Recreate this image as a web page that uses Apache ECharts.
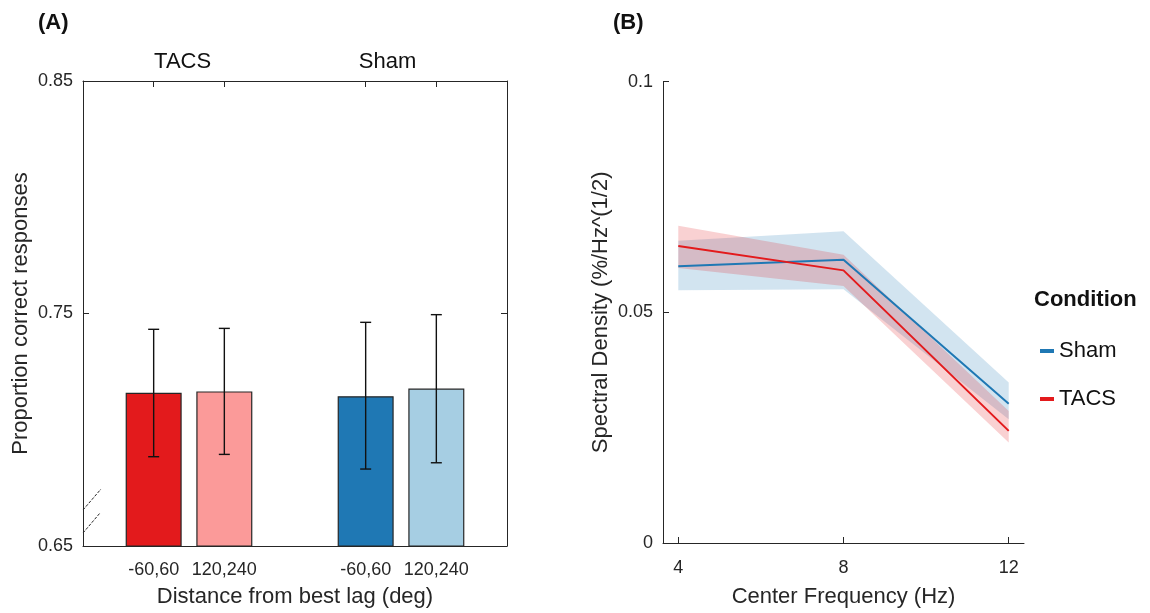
<!DOCTYPE html>
<html><head><meta charset="utf-8">
<script src="https://cdn.jsdelivr.net/npm/echarts@6/dist/echarts.min.js"></script>
<style>html,body{margin:0;padding:0;background:#fff}#c{width:1150px;height:613px}</style>
</head><body><div id="c"></div>
<script>
// ---------- Panel A data ----------
const lagLabels = ['-60,60', '120,240', '-60,60', '120,240'];
const barPos = [1, 2, 4, 5];
const groupLabels = ['TACS', 'Sham'];
const accMean = [0.7159, 0.7165, 0.7144, 0.7177];
const accLow  = [0.6884, 0.6894, 0.6831, 0.6858];
const accHigh = [0.7432, 0.7436, 0.7462, 0.7495];
const yTicksA = [0.65, 0.75, 0.85];
// ---------- Panel B data ----------
const freq = [4, 8, 12];
const shamMean = [0.0600, 0.0614, 0.0302];
const shamLow  = [0.0548, 0.0550, 0.0268];
const shamHigh = [0.0655, 0.0676, 0.0348];
const tacsMean = [0.0644, 0.0591, 0.0243];
const tacsLow  = [0.0596, 0.0557, 0.0218];
const tacsHigh = [0.0688, 0.0625, 0.0286];
const yTicksB = [0, 0.05, 0.1];

const barColors = ['#e31a1c', '#fb9a99', '#1f78b4', '#a6cee3'];
const groupLabelX = [1.41, 4.31];
const FONT = '"Liberation Sans", Arial, sans-serif';
const AX = '#262626';

const chart = echarts.init(document.getElementById('c'), null, {renderer: 'canvas'});

function axisBase(extra) {
  return Object.assign({
    type: 'value',
    splitLine: {show: false},
    axisLine: {show: true, onZero: false, lineStyle: {color: AX, width: 1}},
    nameTextStyle: {fontFamily: FONT, fontSize: 22, color: AX},
  }, extra);
}

function bandSeries(name, low, high, fill) {
  return {
    name: name, type: 'custom', xAxisIndex: 2, yAxisIndex: 2,
    data: freq.map((f, i) => [f, low[i], high[i]]),
    encode: {x: 0, y: [1, 2]},
    silent: true,
    renderItem: function (params, api) {
      if (params.dataIndex !== 0) return {type: 'group', children: []};
      const up = freq.map((f, i) => api.coord([f, high[i]]));
      const dn = freq.map((f, i) => api.coord([f, low[i]])).reverse();
      return {type: 'polygon', shape: {points: up.concat(dn)}, style: {fill: fill}};
    }
  };
}

const option = {
  animation: false,
  backgroundColor: '#fff',
  textStyle: {fontFamily: FONT},
  grid: [
    {left: 83, top: 81, width: 424, height: 465},
    {left: 663, top: 81.7, width: 361, height: 466.6}
  ],
  xAxis: [
    axisBase({
      gridIndex: 0, position: 'bottom', min: 0, max: 6,
      axisTick: {show: true, inside: true, length: 6, customValues: barPos, lineStyle: {color: AX}},
      axisLabel: {customValues: barPos, formatter: v => lagLabels[barPos.indexOf(v)],
        fontFamily: FONT, fontSize: 18, color: AX, margin: 15},
      name: 'Distance from best lag (deg)', nameLocation: 'middle', nameGap: 40
    }),
    axisBase({
      gridIndex: 0, position: 'top', min: 0, max: 6,
      axisTick: {show: true, inside: true, length: 6, customValues: barPos, lineStyle: {color: AX}},
      axisLabel: {customValues: groupLabelX, formatter: v => groupLabels[groupLabelX.indexOf(v)],
        fontFamily: FONT, fontSize: 22, color: '#111', margin: 8}
    }),
    axisBase({
      gridIndex: 1, position: 'bottom', min: 3.63, max: 12.37,
      axisTick: {show: true, inside: true, length: 6, customValues: freq, lineStyle: {color: AX}},
      axisLabel: {customValues: freq, fontFamily: FONT, fontSize: 18, color: AX, margin: 16},
      name: 'Center Frequency (Hz)', nameLocation: 'middle', nameGap: 43
    })
  ],
  yAxis: [
    axisBase({
      gridIndex: 0, position: 'left', min: 0.65, max: 0.85,
      axisTick: {show: true, inside: true, length: 6, customValues: yTicksA, lineStyle: {color: AX}},
      axisLabel: {customValues: yTicksA, formatter: v => v.toFixed(2),
        fontFamily: FONT, fontSize: 18, color: AX, margin: 10},
      name: 'Proportion correct responses', nameLocation: 'middle', nameGap: 51
    }),
    axisBase({
      gridIndex: 0, position: 'right', min: 0.65, max: 0.85,
      axisTick: {show: true, inside: true, length: 6, customValues: yTicksA, lineStyle: {color: AX}},
      axisLabel: {show: false}
    }),
    axisBase({
      gridIndex: 1, position: 'left', min: 0, max: 0.1,
      axisTick: {show: true, inside: true, length: 6, customValues: yTicksB, lineStyle: {color: AX}},
      axisLabel: {customValues: yTicksB, formatter: v => (v === 0 ? '0' : String(+v.toFixed(2))),
        fontFamily: FONT, fontSize: 18, color: AX, margin: 10},
      name: 'Spectral Density (%/Hz^(1/2)', nameLocation: 'middle', nameGap: 51
    })
  ],
  legend: {
    data: ['Sham', 'TACS'],
    orient: 'vertical', left: 1035, top: 335,
    icon: 'rect', itemWidth: 14, itemHeight: 4, itemGap: 26,
    textStyle: {fontFamily: FONT, fontSize: 22, color: '#111'},
    selectedMode: false
  },
  graphic: [
    {type: 'text', left: 38, top: 12, style: {text: '(A)', font: 'bold 22px ' + FONT, fill: '#111'}},
    {type: 'text', left: 613, top: 12, style: {text: '(B)', font: 'bold 22px ' + FONT, fill: '#111'}},
    {type: 'text', left: 1034, top: 289, style: {text: 'Condition', font: 'bold 22px ' + FONT, fill: '#111'}}
  ],
  series: [
    {
      name: 'bars', type: 'bar', xAxisIndex: 0, yAxisIndex: 0, barWidth: 56, clip: true,
      data: barPos.map((x, i) => ({value: [x, accMean[i]], itemStyle: {color: barColors[i]}})),
      itemStyle: {borderColor: AX, borderWidth: 1.2}, silent: true
    },
    {
      name: 'err', type: 'custom', xAxisIndex: 0, yAxisIndex: 0,
      data: barPos.map((x, i) => [x, accLow[i], accHigh[i]]),
      encode: {x: 0, y: [1, 2]}, silent: true, z: 5,
      renderItem: function (params, api) {
        const lo = api.coord([api.value(0), api.value(1)]);
        const hi = api.coord([api.value(0), api.value(2)]);
        const cap = 5.5;
        const st = {stroke: '#111', lineWidth: 1.4};
        return {type: 'group', children: [
          {type: 'line', shape: {x1: lo[0], y1: lo[1], x2: hi[0], y2: hi[1]}, style: st},
          {type: 'line', shape: {x1: lo[0] - cap, y1: lo[1], x2: lo[0] + cap, y2: lo[1]}, style: st},
          {type: 'line', shape: {x1: hi[0] - cap, y1: hi[1], x2: hi[0] + cap, y2: hi[1]}, style: st}
        ]};
      }
    },
    {
      name: 'break', type: 'custom', xAxisIndex: 0, yAxisIndex: 0,
      data: [[0, 0.65]], silent: true, z: 6,
      renderItem: function (params, api) {
        const p = api.coord([0, 0.65]);
        const st = {stroke: AX, lineWidth: 1, lineDash: [3, 1.5]};
        return {type: 'group', children: [
          {type: 'line', shape: {x1: p[0], y1: p[1] - 36, x2: p[0] + 18, y2: p[1] - 57}, style: st},
          {type: 'line', shape: {x1: p[0], y1: p[1] - 13, x2: p[0] + 17, y2: p[1] - 33}, style: st}
        ]};
      }
    },
    bandSeries('shamBand', shamLow, shamHigh, 'rgba(31,120,180,0.2)'),
    {
      name: 'Sham', type: 'line', xAxisIndex: 2, yAxisIndex: 2, symbol: 'none',
      data: freq.map((f, i) => [f, shamMean[i]]),
      color: '#1f78b4', lineStyle: {color: '#1f78b4', width: 2}, silent: true
    },
    bandSeries('tacsBand', tacsLow, tacsHigh, 'rgba(227,26,28,0.2)'),
    {
      name: 'TACS', type: 'line', xAxisIndex: 2, yAxisIndex: 2, symbol: 'none',
      data: freq.map((f, i) => [f, tacsMean[i]]),
      color: '#e31a1c', lineStyle: {color: '#e31a1c', width: 2}, silent: true
    }
  ]
};
chart.setOption(option);
</script>
</body></html>
